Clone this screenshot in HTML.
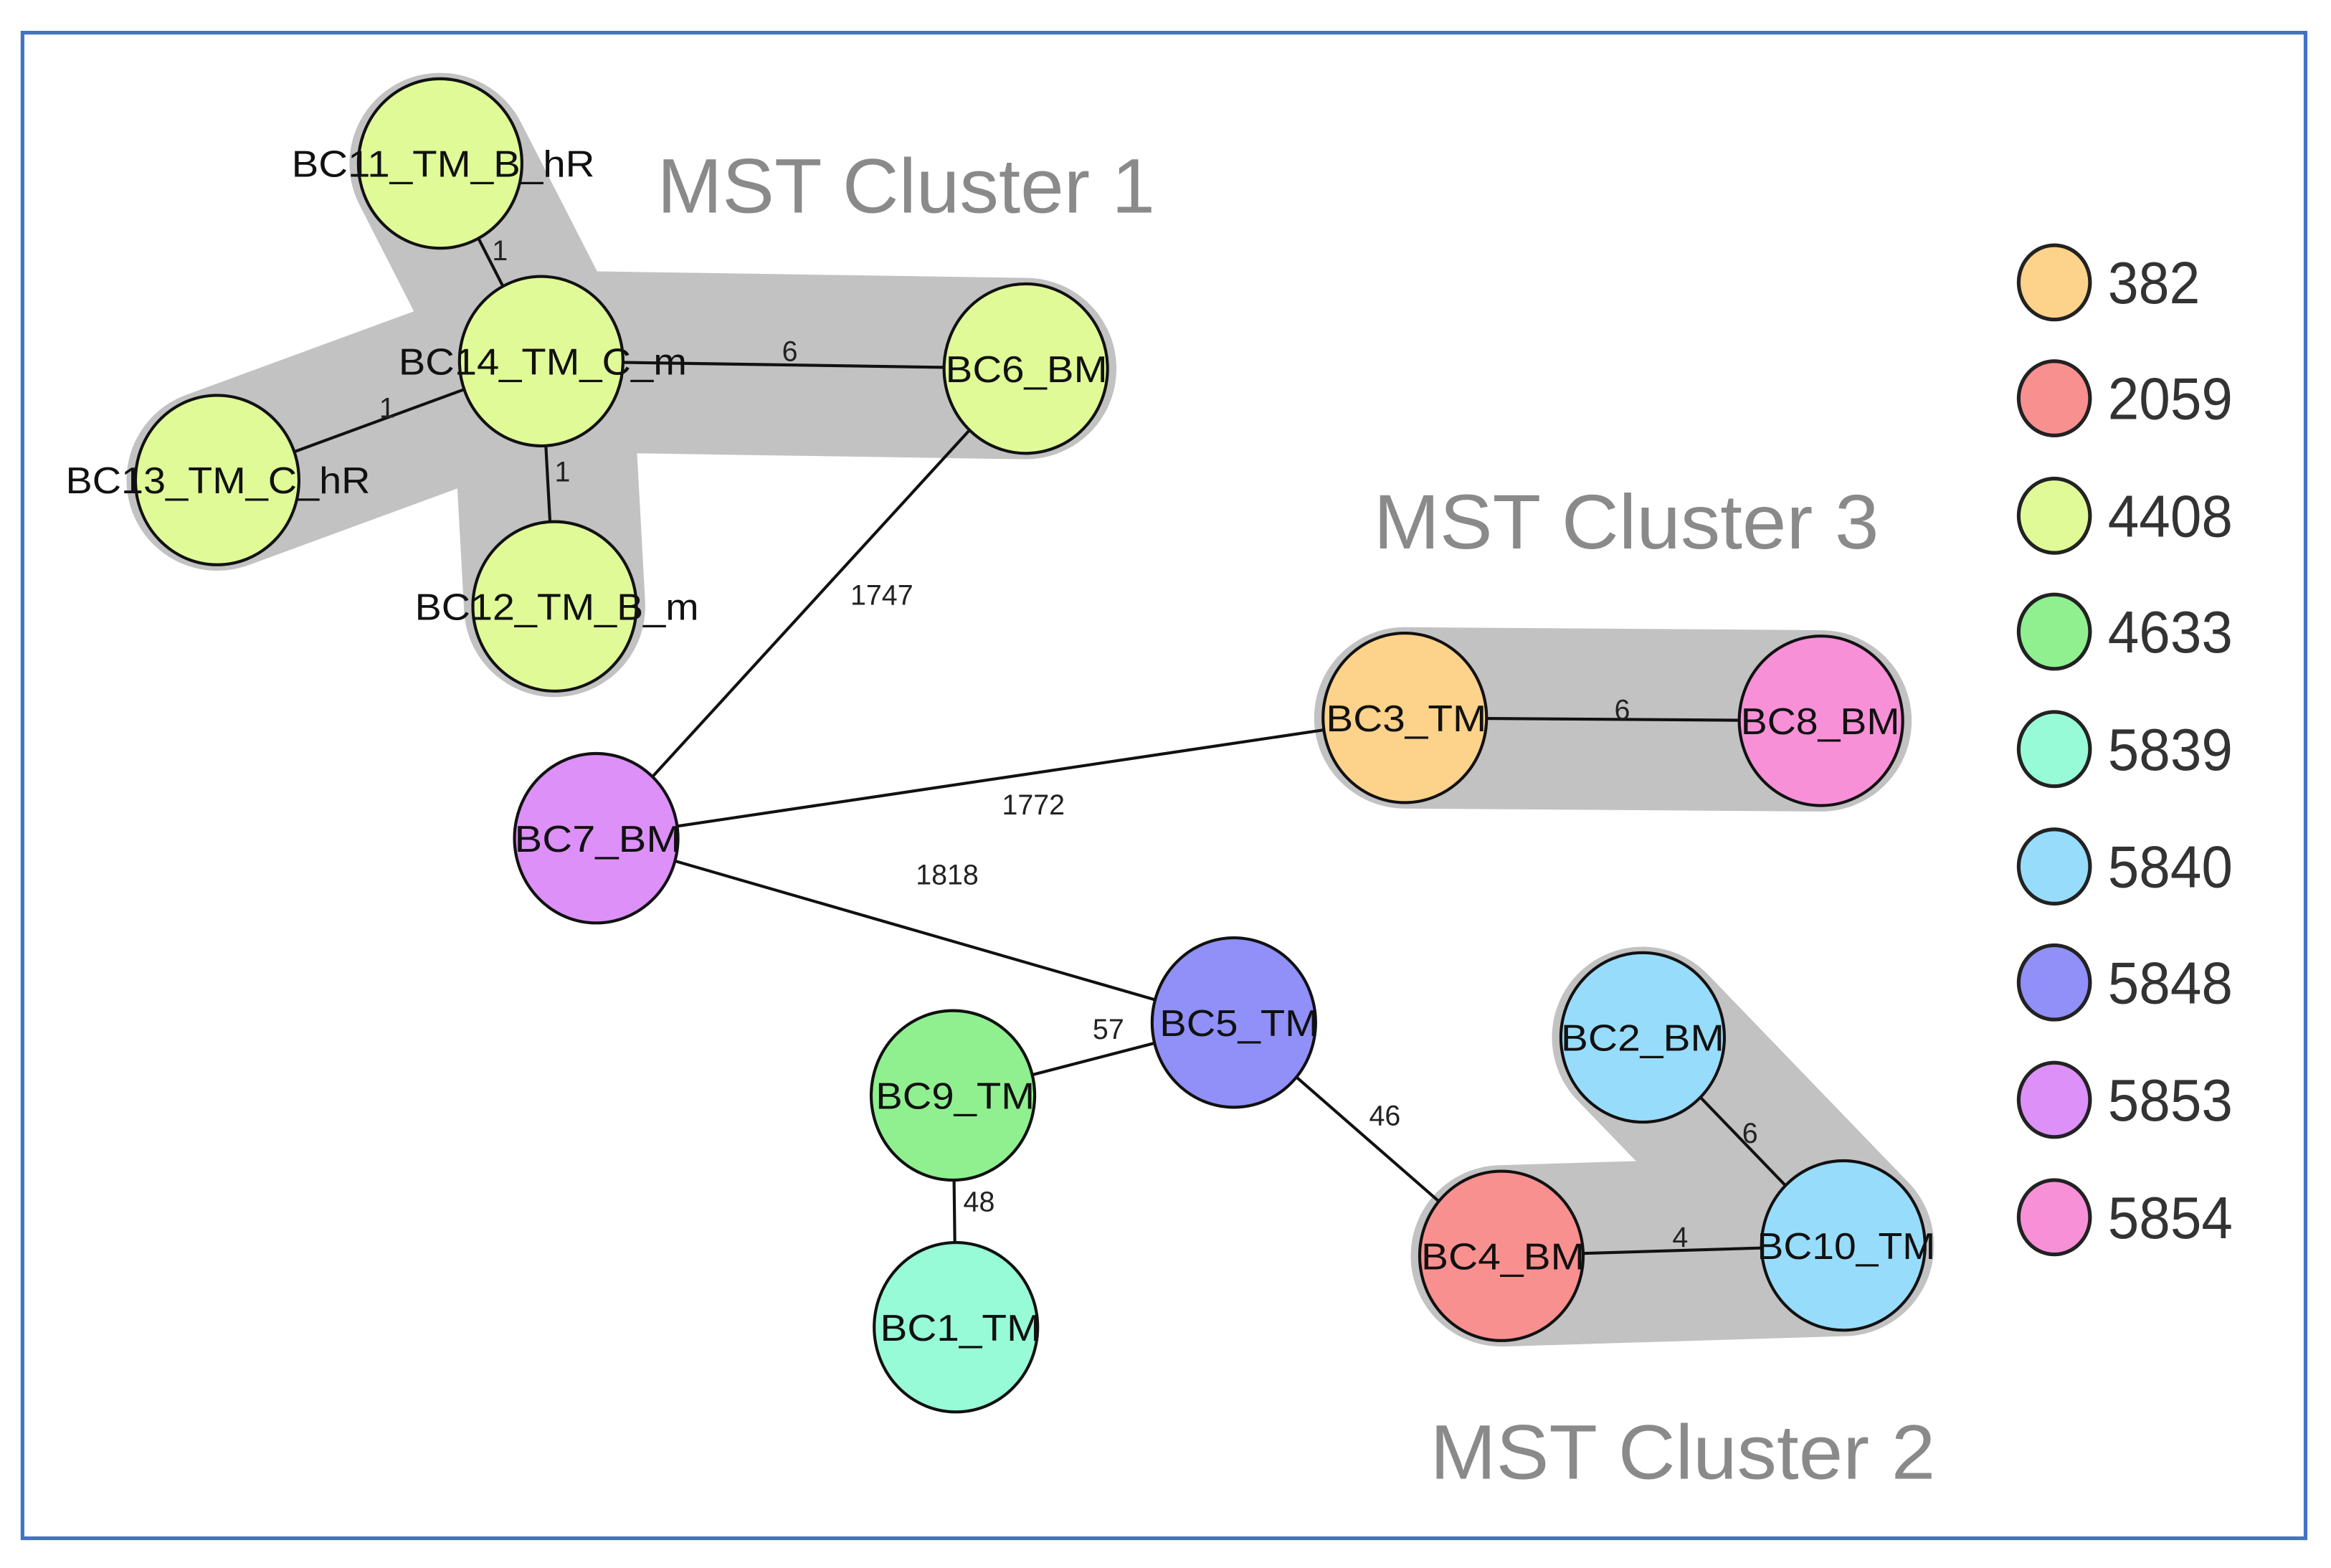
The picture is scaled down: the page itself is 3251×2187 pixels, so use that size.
<!DOCTYPE html>
<html><head><meta charset="utf-8"><style>html,body{margin:0;padding:0;background:#fff}svg{display:block}</style></head>
<body>
<svg width="3251" height="2187" viewBox="0 0 1568 1055" xmlns="http://www.w3.org/2000/svg" font-family="'Liberation Sans', Arial, sans-serif">
<rect x="0" y="0" width="1568" height="1055" fill="#fff"/>
<rect x="15" y="22" width="1536" height="1013" fill="none" stroke="#4472c4" stroke-width="2.5"/>
<g stroke="#c2c2c2" stroke-linecap="round" stroke-linejoin="round" fill="none">
 <g stroke-width="122">
  <line x1="364" y1="243" x2="296" y2="110"/>
  <line x1="364" y1="243" x2="146" y2="323"/>
  <line x1="364" y1="243" x2="373" y2="408"/>
  <line x1="364" y1="243" x2="690" y2="248"/>
  <line x1="945" y1="483" x2="1225" y2="485"/>
  <line x1="1010" y1="845" x2="1240" y2="838"/>
  <line x1="1240" y1="838" x2="1105" y2="698"/>
 </g>
</g>
<g stroke="#111" stroke-width="2">
 <line x1="364" y1="243" x2="296" y2="110"/>
 <line x1="364" y1="243" x2="146" y2="323"/>
 <line x1="364" y1="243" x2="373" y2="408"/>
 <line x1="364" y1="243" x2="690" y2="248"/>
 <line x1="690" y1="248" x2="401" y2="564"/>
 <line x1="401" y1="564" x2="945" y2="483"/>
 <line x1="401" y1="564" x2="830" y2="688"/>
 <line x1="945" y1="483" x2="1225" y2="485"/>
 <line x1="830" y1="688" x2="641" y2="737"/>
 <line x1="641" y1="737" x2="643" y2="893"/>
 <line x1="830" y1="688" x2="1010" y2="845"/>
 <line x1="1010" y1="845" x2="1240" y2="838"/>
 <line x1="1240" y1="838" x2="1105" y2="698"/>
</g>
<g font-size="19" fill="#222">
 <text x="331" y="175">1</text>
 <text x="526" y="243">6</text>
 <text x="255" y="281">1</text>
 <text x="373" y="324">1</text>
 <text x="572" y="407">1747</text>
 <text x="1086" y="484">6</text>
 <text x="674" y="548">1772</text>
 <text x="616" y="595">1818</text>
 <text x="735" y="699">57</text>
 <text x="648" y="815">48</text>
 <text x="921" y="757">46</text>
 <text x="1172" y="769">6</text>
 <text x="1125" y="839">4</text>
</g>
<g stroke="#111" stroke-width="2">
 <ellipse cx="296" cy="110" rx="55" ry="57" fill="#e0fa98"/>
 <ellipse cx="364" cy="243" rx="55" ry="57" fill="#e0fa98"/>
 <ellipse cx="146" cy="323" rx="55" ry="57" fill="#e0fa98"/>
 <ellipse cx="373" cy="408" rx="55" ry="57" fill="#e0fa98"/>
 <ellipse cx="690" cy="248" rx="55" ry="57" fill="#e0fa98"/>
 <ellipse cx="401" cy="564" rx="55" ry="57" fill="#dc90f8"/>
 <ellipse cx="945" cy="483" rx="55" ry="57" fill="#fdd28a"/>
 <ellipse cx="1225" cy="485" rx="55" ry="57" fill="#f890d8"/>
 <ellipse cx="830" cy="688" rx="55" ry="57" fill="#9090f8"/>
 <ellipse cx="641" cy="737" rx="55" ry="57" fill="#90f090"/>
 <ellipse cx="643" cy="893" rx="55" ry="57" fill="#98fbd8"/>
 <ellipse cx="1105" cy="698" rx="55" ry="57" fill="#98dcfb"/>
 <ellipse cx="1240" cy="838" rx="55" ry="57" fill="#98dcfb"/>
 <ellipse cx="1010" cy="845" rx="55" ry="57" fill="#f99090"/>
</g>
<g font-size="25" fill="#111">
 <text x="196" y="119" textLength="204" lengthAdjust="spacingAndGlyphs">BC11_TM_B_hR</text>
 <text x="268" y="252" textLength="194" lengthAdjust="spacingAndGlyphs">BC14_TM_C_m</text>
 <text x="44" y="332" textLength="205" lengthAdjust="spacingAndGlyphs">BC13_TM_C_hR</text>
 <text x="279" y="417" textLength="191" lengthAdjust="spacingAndGlyphs">BC12_TM_B_m</text>
 <text x="636" y="257" textLength="109" lengthAdjust="spacingAndGlyphs">BC6_BM</text>
 <text x="346" y="573" textLength="112" lengthAdjust="spacingAndGlyphs">BC7_BM</text>
 <text x="892" y="492" textLength="108" lengthAdjust="spacingAndGlyphs">BC3_TM</text>
 <text x="1171" y="494" textLength="107" lengthAdjust="spacingAndGlyphs">BC8_BM</text>
 <text x="780" y="697" textLength="107" lengthAdjust="spacingAndGlyphs">BC5_TM</text>
 <text x="589" y="746" textLength="107" lengthAdjust="spacingAndGlyphs">BC9_TM</text>
 <text x="592" y="902" textLength="108" lengthAdjust="spacingAndGlyphs">BC1_TM</text>
 <text x="1050" y="707" textLength="110" lengthAdjust="spacingAndGlyphs">BC2_BM</text>
 <text x="1182" y="847" textLength="120" lengthAdjust="spacingAndGlyphs">BC10_TM</text>
 <text x="956" y="854" textLength="110" lengthAdjust="spacingAndGlyphs">BC4_BM</text>
</g>
<g font-size="52" fill="#8a8a8a">
 <text x="442" y="143" textLength="335" lengthAdjust="spacingAndGlyphs">MST Cluster 1</text>
 <text x="924" y="369" textLength="340" lengthAdjust="spacingAndGlyphs">MST Cluster 3</text>
 <text x="962" y="995" textLength="340" lengthAdjust="spacingAndGlyphs">MST Cluster 2</text>
</g>
<g stroke="#222" stroke-width="2.5">
 <ellipse cx="1382" cy="190" rx="24" ry="25" fill="#fdd28a"/>
 <ellipse cx="1382" cy="268" rx="24" ry="25" fill="#f99090"/>
 <ellipse cx="1382" cy="347" rx="24" ry="25" fill="#e0fa98"/>
 <ellipse cx="1382" cy="425" rx="24" ry="25" fill="#90f090"/>
 <ellipse cx="1382" cy="504" rx="24" ry="25" fill="#98fbd8"/>
 <ellipse cx="1382" cy="583" rx="24" ry="25" fill="#98dcfb"/>
 <ellipse cx="1382" cy="661" rx="24" ry="25" fill="#9090f8"/>
 <ellipse cx="1382" cy="740" rx="24" ry="25" fill="#dc90f8"/>
 <ellipse cx="1382" cy="819" rx="24" ry="25" fill="#f890d8"/>
</g>
<g font-size="40" fill="#333">
 <text x="1418" y="204" textLength="62" lengthAdjust="spacingAndGlyphs">382</text>
 <text x="1418" y="282" textLength="84" lengthAdjust="spacingAndGlyphs">2059</text>
 <text x="1418" y="361" textLength="84" lengthAdjust="spacingAndGlyphs">4408</text>
 <text x="1418" y="439" textLength="84" lengthAdjust="spacingAndGlyphs">4633</text>
 <text x="1418" y="518" textLength="84" lengthAdjust="spacingAndGlyphs">5839</text>
 <text x="1418" y="597" textLength="84" lengthAdjust="spacingAndGlyphs">5840</text>
 <text x="1418" y="675" textLength="84" lengthAdjust="spacingAndGlyphs">5848</text>
 <text x="1418" y="754" textLength="84" lengthAdjust="spacingAndGlyphs">5853</text>
 <text x="1418" y="833" textLength="84" lengthAdjust="spacingAndGlyphs">5854</text>
</g>
</svg>
</body></html>
